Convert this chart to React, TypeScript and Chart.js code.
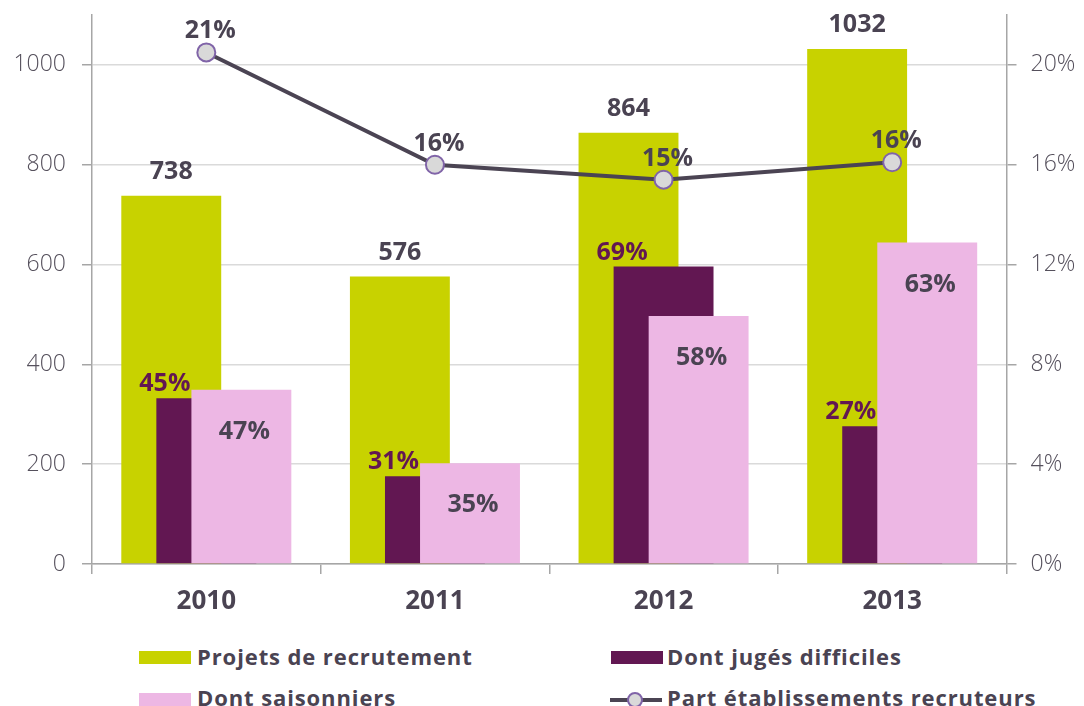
import React, { useEffect, useRef } from 'react';
import { Chart, registerables } from 'chart.js';

Chart.register(...registerables);

// ---- data ----
const years = ['2010', '2011', '2012', '2013'];
const projets = [738, 576, 864, 1032];
const difficiles = [332, 176, 596, 276];
const difficilesPct = ['45%', '31%', '69%', '27%'];
const saisonniers = [349, 202, 497, 644];
const saisonniersPct = ['47%', '35%', '58%', '63%'];
const partEtab = [20.5, 16.0, 15.4, 16.1];
const partEtabLabels = ['21%', '16%', '15%', '16%'];

const seriesNames = [
  'Projets de recrutement',
  'Dont jugés difficiles',
  'Dont saisonniers',
  'Part établissements recruteurs',
];

// ---- styles ----
const GREEN = '#c8d200';
const DARK = '#621752';
const PINK = '#edb7e4';
const LINE = '#4b4453';
const TEXT = '#4a4352';
const AXIS = '#a6a6a6';
const GRID = '#dadada';
const TICK_TEXT = '#55505c';
const FONT = '"Open Sans", "DejaVu Sans", sans-serif';

const drawOrderPlugin = {
  id: 'drawOrder',
  beforeDatasetsDraw(chart: any) {
    [0, 1, 2, 3].forEach((i) => {
      const meta = chart.getDatasetMeta(i);
      if (meta && meta.visible !== false) meta.controller.draw();
    });
    return false;
  },
};

const labelPlugin = {
  id: 'valueLabels',
  afterDraw(chart: any) {
    const ctx = chart.ctx;
    ctx.save();
    ctx.font = `bold 25px ${FONT}`;
    ctx.textBaseline = 'alphabetic';
    const g = chart.getDatasetMeta(0).data;
    const d = chart.getDatasetMeta(1).data;
    const p = chart.getDatasetMeta(2).data;
    const l = chart.getDatasetMeta(3).data;
    ctx.textAlign = 'center';
    ctx.fillStyle = TEXT;
    g.forEach((bar: any, i: number) => {
      ctx.fillText(String(projets[i]), bar.x, bar.y - 17);
    });
    ctx.textAlign = 'right';
    ctx.fillStyle = DARK;
    d.forEach((bar: any, i: number) => {
      const pk = p[i];
      ctx.fillText(difficilesPct[i], pk.x - pk.width / 2 - 1, bar.y - 7);
    });
    ctx.textAlign = 'center';
    ctx.fillStyle = TEXT;
    p.forEach((bar: any, i: number) => {
      ctx.fillText(saisonniersPct[i], bar.x + 3, bar.y + 49);
    });
    l.forEach((pt: any, i: number) => {
      ctx.fillText(partEtabLabels[i], pt.x + 4, pt.y - 14);
    });
    ctx.restore();
  },
};

function ChartCanvas() {
  const ref = useRef<HTMLCanvasElement>(null);
  useEffect(() => {
    if (!ref.current) return;
    const barOpts = { yAxisID: 'y', categoryPercentage: 0.46, barPercentage: 2.85 };
    const chart = new Chart(ref.current, {
      type: 'bar',
      data: {
        labels: years,
        datasets: [
          { label: seriesNames[0], data: projets, backgroundColor: GREEN, ...barOpts },
          { label: seriesNames[1], data: difficiles, backgroundColor: DARK, ...barOpts },
          { label: seriesNames[2], data: saisonniers, backgroundColor: PINK, ...barOpts },
          {
            type: 'line',
            label: seriesNames[3],
            data: partEtab,
            yAxisID: 'y2',
            borderColor: LINE,
            borderWidth: 4,
            pointRadius: 9,
            pointBackgroundColor: '#d9d9d9',
            pointBorderColor: '#8064a8',
            pointBorderWidth: 2,
            tension: 0,
          } as any,
        ],
      },
      options: {
        animation: false,
        responsive: true,
        maintainAspectRatio: false,
        layout: { padding: { top: 15, left: 0, right: 0, bottom: 0 } },
        plugins: {
          legend: { display: false },
          tooltip: { enabled: false },
        },
        scales: {
          x: {
            type: 'category',
            offset: true,
            grid: {
              offset: true,
              drawOnChartArea: false,
              drawTicks: true,
              tickLength: 10,
              color: AXIS,
              lineWidth: 1.5,
            },
            border: { color: AXIS, width: 1.5 },
            ticks: {
              color: TEXT,
              padding: 12,
              font: { family: FONT, size: 26, weight: 'bold' },
            },
            afterFit: (s: any) => {
              s.height = 76;
              s.paddingLeft = 0;
              s.paddingRight = 0;
            },
          },
          y: {
            position: 'left',
            min: 0,
            max: 1100,
            ticks: {
              stepSize: 200,
              includeBounds: false,
              color: TICK_TEXT,
              padding: 16,
              font: { family: FONT, size: 23, weight: '300' },
              callback: (v: any) => String(v),
            },
            grid: {
              color: GRID,
              lineWidth: 1.5,
              tickColor: AXIS,
              tickLength: 10,
            },
            border: { color: AXIS, width: 1.5 },
            afterFit: (s: any) => {
              s.width = 92;
              s.paddingTop = 0;
              s.paddingBottom = 0;
            },
          },
          y2: {
            position: 'right',
            min: 0,
            max: 22,
            ticks: {
              stepSize: 4,
              includeBounds: false,
              color: TICK_TEXT,
              padding: 14,
              font: { family: FONT, size: 23, weight: '300' },
              callback: (v: any) => `${v}%`,
            },
            grid: {
              drawOnChartArea: false,
              tickColor: AXIS,
              tickLength: 10,
              lineWidth: 1.5,
            },
            border: { color: AXIS, width: 1.5 },
            afterFit: (s: any) => {
              s.width = 77.5;
              s.paddingTop = 0;
              s.paddingBottom = 0;
            },
          },
        },
      } as any,
      plugins: [drawOrderPlugin, labelPlugin],
    });
    return () => chart.destroy();
  }, []);
  return <canvas ref={ref} />;
}

const legendText: React.CSSProperties = {
  position: 'absolute',
  fontFamily: FONT,
  fontWeight: 700,
  fontSize: 22,
  lineHeight: '28px',
  color: TEXT,
  letterSpacing: '0.9px',
  whiteSpace: 'nowrap',
};

function Swatch({ left, top, color }: { left: number; top: number; color: string }) {
  return (
    <div
      style={{ position: 'absolute', left, top, width: 52, height: 13, background: color }}
    />
  );
}

export default function App() {
  return (
    <div
      style={{
        position: 'absolute',
        left: 0,
        top: 0,
        width: 1084,
        height: 706,
        background: '#fff',
        overflow: 'hidden',
      }}
    >
      <div style={{ position: 'absolute', left: 0, top: 0, width: 1084, height: 640 }}>
        <ChartCanvas />
      </div>
      <Swatch left={139} top={651} color={GREEN} />
      <div style={{ ...legendText, left: 197, top: 642 }}>{seriesNames[0]}</div>
      <Swatch left={611} top={651} color={DARK} />
      <div style={{ ...legendText, left: 667, top: 642 }}>{seriesNames[1]}</div>
      <Swatch left={139} top={693} color={PINK} />
      <div style={{ ...legendText, left: 197, top: 683 }}>{seriesNames[2]}</div>
      <div
        style={{
          position: 'absolute',
          left: 610,
          top: 698,
          width: 52,
          height: 4,
          background: LINE,
        }}
      />
      <div
        style={{
          position: 'absolute',
          left: 627,
          top: 692,
          width: 12,
          height: 12,
          borderRadius: '50%',
          background: '#d9d9d9',
          border: '2px solid #8064a8',
        }}
      />
      <div style={{ ...legendText, left: 667, top: 683 }}>{seriesNames[3]}</div>
    </div>
  );
}
